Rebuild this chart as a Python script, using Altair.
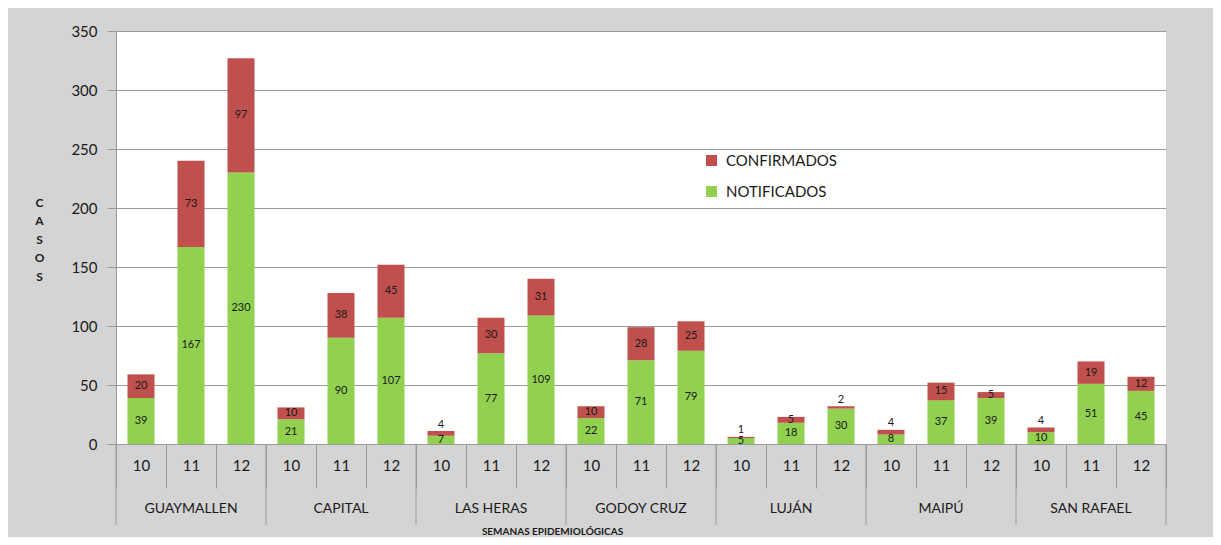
import altair as alt
import pandas as pd

regiones = ["GUAYMALLEN", "CAPITAL", "LAS HERAS", "GODOY CRUZ", "LUJÁN", "MAIPÚ", "SAN RAFAEL"]
semanas = ["10", "11", "12"]
notificados = [39, 167, 230, 21, 90, 107, 7, 77, 109, 22, 71, 79, 5, 18, 30, 8, 37, 39, 10, 51, 45]
confirmados = [20, 73, 97, 10, 38, 45, 4, 30, 31, 10, 28, 25, 1, 5, 2, 4, 15, 5, 4, 19, 12]
series = ["CONFIRMADOS", "NOTIFICADOS"]
colores = ["#c0504d", "#92d050"]
y_ticks = [0, 50, 100, 150, 200, 250, 300, 350]

rows = []
for i, r in enumerate(regiones):
    for j, s in enumerate(semanas):
        k = i * 3 + j
        rows.append({"region": r, "semana": s, "key": f"{r}|{s}",
                     "NOTIFICADOS": notificados[k], "CONFIRMADOS": confirmados[k]})
df = pd.DataFrame(rows)
orden = list(df["key"])

W, H = 1050, 413
FONT = "Lato"
GRID = "#9a9a9a"
TXT = "#1a1a1a"

x_scale = alt.Scale(domain=orden, paddingInner=0, paddingOuter=0)

base = (
    alt.Chart(df)
    .transform_fold(["NOTIFICADOS", "CONFIRMADOS"], as_=["serie", "valor"])
    .transform_calculate(ord="datum.serie == 'NOTIFICADOS' ? 0 : 1")
    .transform_stack(stack="valor", groupby=["key"], as_=["y0", "y1"],
                     sort=[alt.SortField("ord", order="ascending")])
)

x_axis = alt.Axis(
    title="SEMANAS EPIDEMIOLÓGICAS",
    labelExpr="split(datum.label, '|')[1]",
    labelAngle=0, labelFontSize=15, labelColor=TXT, labelPadding=-30,
    tickBand="extent", tickSize=44, tickColor=GRID, domainColor=GRID,
    titleX=436, titleY=87, titleAlign="center", titleBaseline="middle",
    titleFontSize=10, titleFontWeight="bold", titleColor=TXT,
)
y_axis = alt.Axis(
    title=["C", "A", "S", "O", "S"], titleAngle=0, titleX=-77, titleY=166,
    titleAlign="center", titleBaseline="top", titleFontSize=12,
    titleFontWeight="bold", titleLineHeight=18.5, titleColor=TXT,
    values=y_ticks, labelFontSize=15, labelColor=TXT, labelPadding=10,
    tickSize=9, tickColor=GRID, domainColor=GRID, gridColor=GRID,
)

bars = base.mark_bar(width=alt.RelativeBandSize(0.54)).encode(
    x=alt.X("key:N", scale=x_scale, sort=orden, axis=x_axis),
    y=alt.Y("y1:Q", scale=alt.Scale(domain=[0, 350], nice=False), axis=y_axis),
    y2="y0:Q",
    color=alt.Color("serie:N", scale=alt.Scale(domain=series, range=colores),
                    legend=alt.Legend(title=None, orient="none", legendX=588, legendY=122,
                                      symbolType="square", symbolSize=121,
                                      symbolStrokeWidth=0, labelFontSize=15,
                                      labelColor=TXT, rowPadding=15, padding=0,
                                      labelOffset=7)),
)

labels = base.transform_calculate(
    ly="datum.serie == 'CONFIRMADOS' && datum.valor <= 4 ? datum.y1 + 5.5 : (datum.y0 + datum.y1) / 2"
).mark_text(font=FONT, fontSize=11, color=TXT, baseline="middle").encode(
    x=alt.X("key:N", scale=x_scale, sort=orden),
    y=alt.Y("ly:Q"),
    text="valor:Q",
)

sep_df = pd.DataFrame({"key": [f"{r}|{semanas[0]}" for r in regiones]})
seps = alt.Chart(sep_df).mark_rule(color=GRID, clip=False).encode(
    x=alt.X("key:N", scale=x_scale, sort=orden, bandPosition=0),
    y=alt.value(H), y2=alt.value(H + 81),
)
end_df = pd.DataFrame({"key": [orden[-1]]})
sep_end = alt.Chart(end_df).mark_rule(color=GRID, clip=False).encode(
    x=alt.X("key:N", scale=x_scale, sort=orden, bandPosition=1),
    y=alt.value(H), y2=alt.value(H + 81),
)

reg_df = pd.DataFrame({"key": [f"{r}|{semanas[1]}" for r in regiones], "region": regiones})
reg_labels = alt.Chart(reg_df).mark_text(font=FONT, fontSize=14, color=TXT, clip=False,
                                         baseline="middle").encode(
    x=alt.X("key:N", scale=x_scale, sort=orden),
    y=alt.value(H + 65),
    text="region:N",
)

chart = (
    alt.layer(bars, labels, seps, sep_end, reg_labels)
    .properties(width=W, height=H, autosize=alt.AutoSizeParams(type="none"),
                padding={"left": 108, "top": 23, "right": 47, "bottom": 93})
    .configure(background="#d4d4d4", font=FONT)
    .configure_view(stroke=None, fill="white")
)

chart.save("out.html", embed_options={"renderer": "svg", "actions": False})
